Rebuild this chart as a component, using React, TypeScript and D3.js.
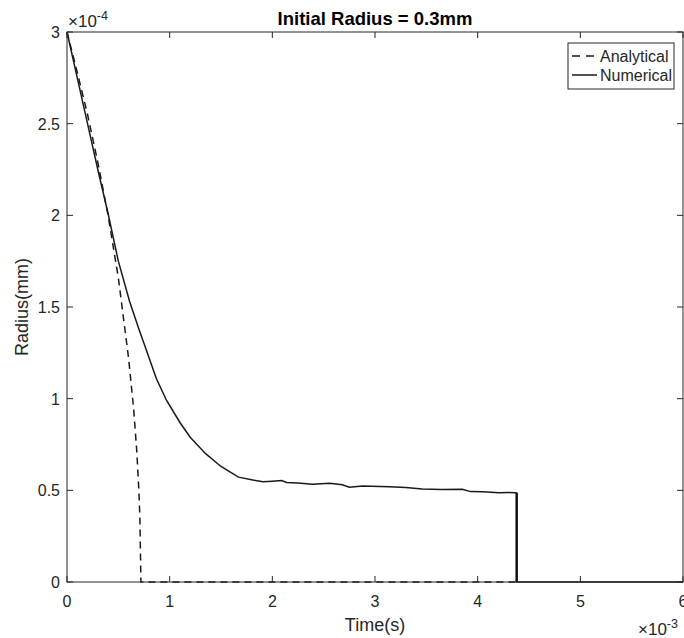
import { useEffect, useRef } from "react";
import * as d3 from "d3";

// time in units of 1e-3 s, radius in units of 1e-4
const analyticalTime = [0, 0.05, 0.1, 0.2, 0.3, 0.4, 0.5, 0.6, 0.65, 0.68, 0.7, 0.71, 0.72, 4.38];
const analyticalRadius = [3.0, 2.89, 2.78, 2.55, 2.29, 2.0, 1.66, 1.22, 0.94, 0.71, 0.5, 0.35, 0, 0];

const numericalTime = [
  0, 0.1, 0.2, 0.3, 0.4, 0.5, 0.61, 0.7, 0.77, 0.87, 0.97, 1.1, 1.2, 1.35, 1.5, 1.67, 1.81, 1.91, 2.0, 2.09,
  2.14, 2.25, 2.39, 2.56, 2.68, 2.75, 2.88, 3.14, 3.3, 3.46, 3.65, 3.85, 3.93, 4.05, 4.21, 4.3, 4.38,
];
const numericalRadius = [
  3.0, 2.75, 2.5, 2.25, 2.01, 1.75, 1.53, 1.38, 1.27, 1.11, 0.99, 0.87, 0.79, 0.7, 0.63, 0.572, 0.556, 0.547, 0.55, 0.553,
  0.543, 0.54, 0.533, 0.538, 0.53, 0.517, 0.524, 0.52, 0.515, 0.507, 0.505, 0.506, 0.493, 0.492, 0.487, 0.488, 0.487,
];
// after the droplet vanishes
const dropTime = [4.38, 4.38, 6];
const dropRadius = [0.487, 0, 0];

const xTicks = [0, 1, 2, 3, 4, 5, 6];
const yTicks = [0, 0.5, 1, 1.5, 2, 2.5, 3];
const yTickLabels = ["0", "0.5", "1", "1.5", "2", "2.5", "3"];

const W = 684;
const H = 638;
const plot = { left: 67, right: 683, top: 32, bottom: 582 };
const font = "'Liberation Sans', Arial, Helvetica, sans-serif";
const ink = "#262626";

export default function App() {
  const ref = useRef<SVGSVGElement | null>(null);

  useEffect(() => {
    if (!ref.current) return;
    const svg = d3.select(ref.current);
    svg.selectAll("*").remove();

    const x = d3.scaleLinear().domain([0, 6]).range([plot.left, plot.right]);
    const y = d3.scaleLinear().domain([0, 3]).range([plot.bottom, plot.top]);

    svg.append("rect").attr("width", W).attr("height", H).attr("fill", "#fff");

    const line = d3
      .line<[number, number]>()
      .x((d) => x(d[0]))
      .y((d) => y(d[1]));

    const ana = analyticalTime.map((t, i) => [t, analyticalRadius[i]] as [number, number]);
    const num = numericalTime.map((t, i) => [t, numericalRadius[i]] as [number, number]);
    const drop = dropTime.map((t, i) => [t, dropRadius[i]] as [number, number]);

    svg.append("path").datum(ana).attr("d", line).attr("fill", "none")
      .attr("stroke", "#1a1a1a").attr("stroke-width", 1.5).attr("stroke-dasharray", "7,5");
    svg.append("path").datum(num).attr("d", line).attr("fill", "none")
      .attr("stroke", "#1a1a1a").attr("stroke-width", 1.5);
    svg.append("path").datum(drop).attr("d", line).attr("fill", "none")
      .attr("stroke", "#1a1a1a").attr("stroke-width", 1.5);
    // the vertical drop looks heavier
    svg.append("path").datum(drop.slice(0, 2)).attr("d", line).attr("fill", "none")
      .attr("stroke", "#111").attr("stroke-width", 2.4);

    // axes box
    svg.append("rect")
      .attr("x", plot.left).attr("y", plot.top)
      .attr("width", plot.right - plot.left).attr("height", plot.bottom - plot.top)
      .attr("fill", "none").attr("stroke", ink).attr("stroke-width", 1);

    const tl = 6;
    const g = svg.append("g").attr("stroke", ink).attr("stroke-width", 1);
    xTicks.forEach((t) => {
      g.append("line").attr("x1", x(t)).attr("x2", x(t)).attr("y1", plot.bottom).attr("y2", plot.bottom - tl);
      g.append("line").attr("x1", x(t)).attr("x2", x(t)).attr("y1", plot.top).attr("y2", plot.top + tl);
    });
    yTicks.forEach((v) => {
      g.append("line").attr("x1", plot.left).attr("x2", plot.left + tl).attr("y1", y(v)).attr("y2", y(v));
      g.append("line").attr("x1", plot.right).attr("x2", plot.right - tl).attr("y1", y(v)).attr("y2", y(v));
    });

    const txt = svg.append("g").attr("font-family", font).attr("fill", ink).attr("font-size", 16);
    xTicks.forEach((t) => {
      txt.append("text").attr("x", x(t)).attr("y", plot.bottom + 25).attr("text-anchor", "middle").text(String(t));
    });
    yTicks.forEach((v, i) => {
      txt.append("text").attr("x", plot.left - 7).attr("y", y(v) + 6).attr("text-anchor", "end").text(yTickLabels[i]);
    });

    // exponent labels
    const ey = txt.append("text").attr("x", plot.left + 1).attr("y", 27).attr("font-size", 17);
    ey.append("tspan").text("\u00d710");
    ey.append("tspan").attr("dy", -7).attr("font-size", 12.5).text("-4");
    const ex = txt.append("text").attr("x", 638).attr("y", 635).attr("font-size", 17);
    ex.append("tspan").text("\u00d710");
    ex.append("tspan").attr("dy", -7).attr("font-size", 12.5).text("-3");

    txt.append("text").attr("x", (plot.left + plot.right) / 2).attr("y", 631)
      .attr("text-anchor", "middle").attr("font-size", 18).text("Time(s)");
    txt.append("text")
      .attr("transform", `translate(28,${(plot.top + plot.bottom) / 2}) rotate(-90)`)
      .attr("text-anchor", "middle").attr("font-size", 18).text("Radius(mm)");
    txt.append("text").attr("x", (plot.left + plot.right) / 2).attr("y", 25)
      .attr("text-anchor", "middle").attr("font-size", 18.5).attr("font-weight", "bold")
      .attr("fill", "#000").text("Initial Radius = 0.3mm");

    // legend
    const lg = svg.append("g");
    lg.append("rect").attr("x", 568).attr("y", 43).attr("width", 106).attr("height", 46)
      .attr("fill", "#fff").attr("stroke", ink).attr("stroke-width", 1);
    lg.append("line").attr("x1", 572).attr("x2", 597).attr("y1", 56).attr("y2", 56)
      .attr("stroke", "#1a1a1a").attr("stroke-width", 1.5).attr("stroke-dasharray", "8,6");
    lg.append("line").attr("x1", 572).attr("x2", 597).attr("y1", 75).attr("y2", 75)
      .attr("stroke", "#1a1a1a").attr("stroke-width", 1.5);
    lg.append("text").attr("x", 600).attr("y", 62).attr("font-family", font).attr("font-size", 16)
      .attr("fill", ink).text("Analytical");
    lg.append("text").attr("x", 600).attr("y", 81).attr("font-family", font).attr("font-size", 16)
      .attr("fill", ink).text("Numerical");
  }, []);

  return (
    <div style={{ position: "absolute", left: 0, top: 0 }}>
      <svg ref={ref} width={W} height={H} style={{ display: "block" }} />
    </div>
  );
}
